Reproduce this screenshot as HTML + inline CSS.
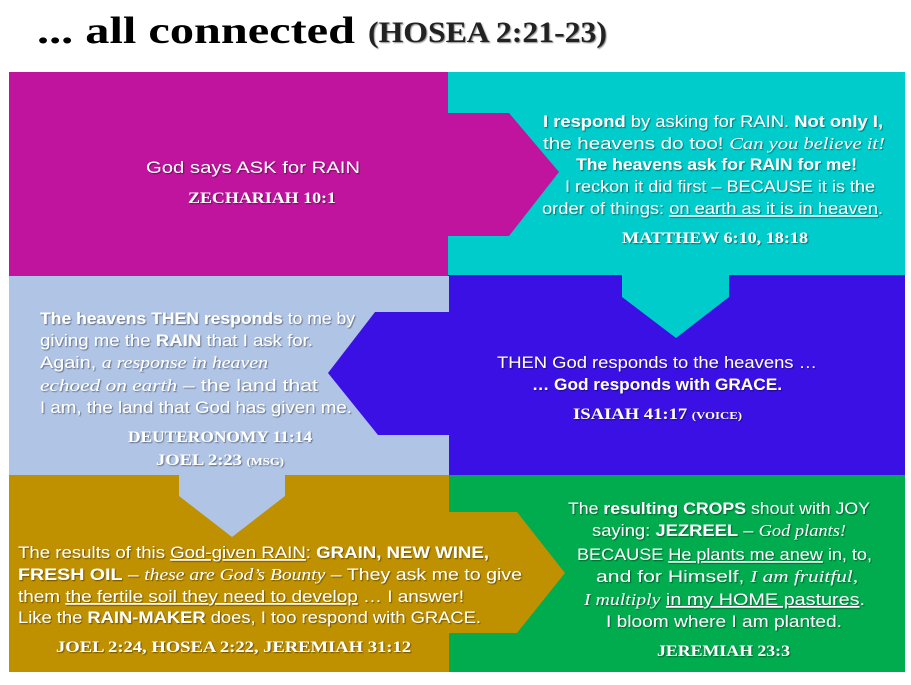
<!DOCTYPE html>
<html><head><meta charset="utf-8"><style>
html,body{margin:0;padding:0;background:#fff;width:911px;height:685px;overflow:hidden}
svg{display:block}
.t{font-family:"Liberation Sans",sans-serif;font-size:17px;fill:#fff}
.b{font-weight:bold}
.i{font-family:"Liberation Serif",serif;font-style:italic}
.u{text-decoration:underline}
.r{font-family:"Liberation Serif",serif;font-weight:bold;font-size:16px;fill:#fff}
.sh{filter:url(#s)}
</style></head><body>
<svg width="911" height="685" viewBox="0 0 911 685" xmlns="http://www.w3.org/2000/svg">
<defs><filter id="s" x="-5%" y="-20%" width="110%" height="140%"><feDropShadow dx="1" dy="1" stdDeviation="0.6" flood-color="#000" flood-opacity="0.45"/></filter></defs>
<text x="37" y="43" textLength="318" lengthAdjust="spacingAndGlyphs" font-family="Liberation Serif, serif" font-weight="bold" font-size="38" fill="#000">... all connected</text>
<text x="368" y="42" textLength="239" lengthAdjust="spacingAndGlyphs" font-family="Liberation Serif, serif" font-weight="bold" font-size="30" fill="#222" filter="url(#s)">(HOSEA 2:21-23)</text>

<rect x="9" y="72" width="440" height="204" fill="#C0149F"/>
<rect x="448" y="72" width="457" height="203" fill="#00CCCC"/>
<rect x="448" y="275" width="457" height="200" fill="#3A10E5"/>
<rect x="9" y="276" width="440" height="199" fill="#B0C4E6"/>
<rect x="9" y="475" width="440" height="197" fill="#BF9000"/>
<rect x="449" y="475" width="456" height="197" fill="#00AC4E"/>
<polygon points="448,113 509,113 559,172 509,236 448,236" fill="#C0149F"/>
<polygon points="622,274 729,274 729,297 676,338 622,297" fill="#00CCCC"/>
<polygon points="449,312 375,312 328,373 378,435 449,435" fill="#3A10E5"/>
<polygon points="179,474 285,474 285,496 232,537 179,496" fill="#B0C4E6"/>
<polygon points="448,512 517,512 565,573 517,633 448,633" fill="#BF9000"/>

<g class="sh">
<text class="t" x="146" y="173" font-size="21" textLength="214" lengthAdjust="spacingAndGlyphs">God says ASK for RAIN</text>
<text class="r" x="188" y="203" textLength="148" lengthAdjust="spacingAndGlyphs">ZECHARIAH 10:1</text>

<text class="t" x="543" y="127" textLength="340" lengthAdjust="spacingAndGlyphs"><tspan class="b">I respond</tspan> by asking for RAIN. <tspan class="b">Not only I,</tspan></text>
<text class="t" x="543" y="149" textLength="342" lengthAdjust="spacingAndGlyphs">the heavens do too! <tspan class="i">Can you believe it!</tspan></text>
<text class="t b" x="576" y="170" textLength="281" lengthAdjust="spacingAndGlyphs">The heavens ask for RAIN for me!</text>
<text class="t" x="565" y="192" textLength="310" lengthAdjust="spacingAndGlyphs">I reckon it did first – BECAUSE it is the</text>
<text class="t" x="542" y="214" textLength="341" lengthAdjust="spacingAndGlyphs">order of things: <tspan class="u">on earth as it is in heaven</tspan>.</text>
<text class="r" x="622" y="243" textLength="186" lengthAdjust="spacingAndGlyphs">MATTHEW 6:10, 18:18</text>

<text class="t" x="40" y="324" textLength="315" lengthAdjust="spacingAndGlyphs"><tspan class="b">The heavens THEN responds</tspan> to me by</text>
<text class="t" x="40" y="346" textLength="273" lengthAdjust="spacingAndGlyphs">giving me the <tspan class="b">RAIN</tspan> that I ask for.</text>
<text class="t" x="40" y="368" textLength="228" lengthAdjust="spacingAndGlyphs">Again, <tspan class="i">a response in heaven</tspan></text>
<text class="t" x="40" y="391" textLength="278" lengthAdjust="spacingAndGlyphs"><tspan class="i">echoed on earth</tspan> – the land that</text>
<text class="t" x="40" y="413" textLength="312" lengthAdjust="spacingAndGlyphs">I am, the land that God has given me.</text>
<text class="r" x="128" y="442" textLength="184" lengthAdjust="spacingAndGlyphs">DEUTERONOMY 11:14</text>
<text class="r" x="156" y="465" textLength="128" lengthAdjust="spacingAndGlyphs">JOEL 2:23 <tspan font-size="11">(MSG)</tspan></text>

<text class="t" x="497" y="368" textLength="320" lengthAdjust="spacingAndGlyphs">THEN God responds to the heavens …</text>
<text class="t b" x="532" y="390" textLength="250" lengthAdjust="spacingAndGlyphs">… God responds with GRACE.</text>
<text class="r" x="573" y="419" textLength="169" lengthAdjust="spacingAndGlyphs">ISAIAH 41:17 <tspan font-size="11">(VOICE)</tspan></text>

<text class="t" x="18" y="558" textLength="471" lengthAdjust="spacingAndGlyphs">The results of this <tspan class="u">God-given RAIN</tspan>: <tspan class="b">GRAIN, NEW WINE,</tspan></text>
<text class="t" x="18" y="580" textLength="504" lengthAdjust="spacingAndGlyphs"><tspan class="b">FRESH OIL</tspan> – <tspan class="i">these are God’s Bounty</tspan> – They ask me to give</text>
<text class="t" x="18" y="602" textLength="446" lengthAdjust="spacingAndGlyphs">them <tspan class="u">the fertile soil they need to develop</tspan> … I answer!</text>
<text class="t" x="18" y="623" textLength="463" lengthAdjust="spacingAndGlyphs">Like the <tspan class="b">RAIN-MAKER</tspan> does, I too respond with GRACE.</text>
<text class="r" x="56" y="652" textLength="355" lengthAdjust="spacingAndGlyphs">JOEL 2:24, HOSEA 2:22, JEREMIAH 31:12</text>

<text class="t" x="568" y="514" textLength="302" lengthAdjust="spacingAndGlyphs">The <tspan class="b">resulting CROPS</tspan> shout with JOY</text>
<text class="t" x="592" y="536" textLength="254" lengthAdjust="spacingAndGlyphs">saying: <tspan class="b">JEZREEL</tspan> – <tspan class="i">God plants!</tspan></text>
<text class="t" x="577" y="560" textLength="295" lengthAdjust="spacingAndGlyphs">BECAUSE <tspan class="u">He plants me anew</tspan> in, to,</text>
<text class="t" x="596" y="582" textLength="262" lengthAdjust="spacingAndGlyphs">and for Himself, <tspan class="i">I am fruitful,</tspan></text>
<text class="t" x="584" y="605" textLength="281" lengthAdjust="spacingAndGlyphs"><tspan class="i">I multiply</tspan> <tspan class="u">in my HOME pastures</tspan>.</text>
<text class="t" x="606" y="627" textLength="236" lengthAdjust="spacingAndGlyphs">I bloom where I am planted.</text>
<text class="r" x="657" y="656" textLength="133" lengthAdjust="spacingAndGlyphs">JEREMIAH 23:3</text>
</g>
</svg>
</body></html>
